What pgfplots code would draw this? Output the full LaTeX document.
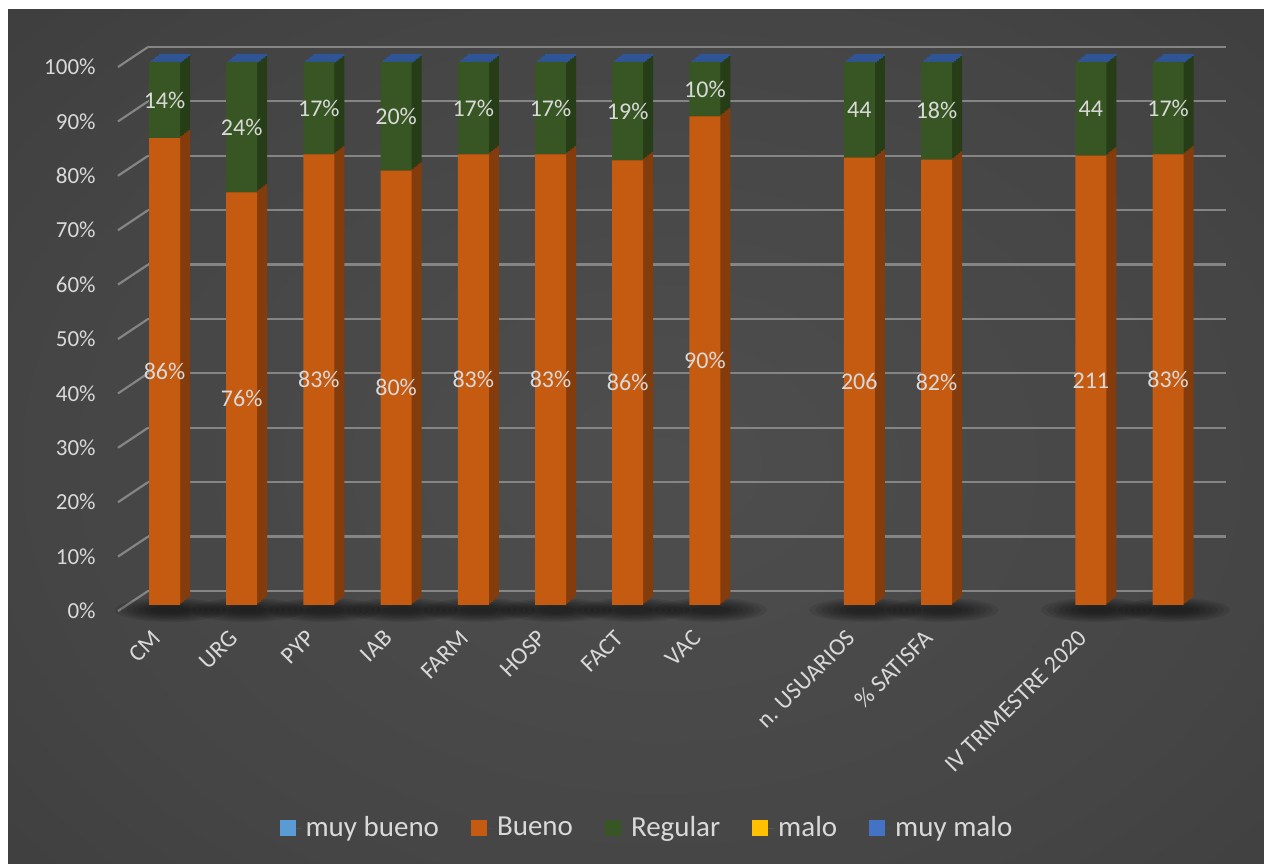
\documentclass[border=0pt]{standalone}
\usepackage{pgfplots}
\pgfplotsset{compat=1.18}
\usepackage{pgfplotstable}
\usepackage{fontspec}
\setmainfont{Carlito}
\definecolor{frontO}{HTML}{C55A11}
\definecolor{sideO}{HTML}{843C0C}
\definecolor{frontG}{HTML}{375623}
\definecolor{sideG}{HTML}{263D17}
\definecolor{topB}{HTML}{2F5597}
\definecolor{txt}{HTML}{D9D9D9}
\definecolor{gridc}{HTML}{858585}
\definecolor{mb}{HTML}{5B9BD5}
\definecolor{malo}{HTML}{FFC000}
\definecolor{mm}{HTML}{4472C4}
\definecolor{bgA}{HTML}{4E4E4E}
\definecolor{bgB}{HTML}{454545}
\definecolor{bgC}{HTML}{363636}
\definecolor{bgD}{HTML}{282828}
\pgfdeclareradialshading{bgsh}{\pgfpoint{0bp}{0bp}}{color(0bp)=(bgA); color(22bp)=(bgB); color(45bp)=(bgC); color(70bp)=(bgD)}
\pgfdeclareplotmark{shad}{%
 \pgfsetfillopacity{0.09}%
 \pgfpathellipse{\pgfpoint{3pt}{-2.5pt}}{\pgfpoint{28pt}{0pt}}{\pgfpoint{0pt}{6pt}}\pgfusepath{fill}%
 \pgfpathellipse{\pgfpoint{3pt}{-2.5pt}}{\pgfpoint{25pt}{0pt}}{\pgfpoint{0pt}{5.3pt}}\pgfusepath{fill}%
 \pgfpathellipse{\pgfpoint{3pt}{-2.5pt}}{\pgfpoint{22pt}{0pt}}{\pgfpoint{0pt}{4.6pt}}\pgfusepath{fill}%
 \pgfpathellipse{\pgfpoint{3pt}{-2.5pt}}{\pgfpoint{19pt}{0pt}}{\pgfpoint{0pt}{3.9pt}}\pgfusepath{fill}%
 \pgfpathellipse{\pgfpoint{3pt}{-2.5pt}}{\pgfpoint{16pt}{0pt}}{\pgfpoint{0pt}{3.2pt}}\pgfusepath{fill}%
 \pgfpathellipse{\pgfpoint{3pt}{-2.5pt}}{\pgfpoint{13pt}{0pt}}{\pgfpoint{0pt}{2.5pt}}\pgfusepath{fill}%
 \pgfpathellipse{\pgfpoint{3pt}{-2.5pt}}{\pgfpoint{10pt}{0pt}}{\pgfpoint{0pt}{1.8pt}}\pgfusepath{fill}%
}
\pgfplotstableread{
x b r lb lr
0 86 14 86\% 14\%
1 76 24 76\% 24\%
2 83 17 83\% 17\%
3 80 20 80\% 20\%
4 83 17 83\% 17\%
5 83 17 83\% 17\%
6 86 19 86\% 19\%
7 90 10 90\% 10\%
9 206 44 206 44
10 82 18 82\% 18\%
12 211 44 211 44
13 83 17 83\% 17\%
}\data
\pgfplotsset{
 base/.style={scale only axis, width=540.4pt, height=271.5pt,
   xmin=-0.5, xmax=13.5, ymin=0, ymax=100, anchor=south west, clip=false,
   axis line style={draw=none}, major tick length=0pt, xtick=\empty, ytick=\empty},
 bars/.style={base, ybar stacked, bar width=15.5pt},
}
\begin{document}
\begin{tikzpicture}
\useasboundingbox (0,0) rectangle (632pt,431.5pt);
\fill[white] (0,0) rectangle (632pt,431.5pt);
\begin{scope}
\clip (4pt,0) rectangle (632pt,426.5pt);
\shade[shading=bgsh] (-20pt,-60pt) rectangle (680pt,460pt);
\end{scope}
% back wall grid
\begin{axis}[scale only axis, width=539pt, height=272pt, xmin=0, xmax=1078, ymin=0, ymax=100,
  anchor=south west, at={(74pt,136pt)}, clip=false,
  axis line style={draw=none}, major tick length=0pt, xtick=\empty,
  ytick={10,20,...,100}, yticklabels={10\%,20\%,30\%,40\%,50\%,60\%,70\%,80\%,90\%,100\%},
  extra y ticks={0}, extra y tick labels={0\%}, extra y tick style={grid=none},
  ymajorgrids, grid style={gridc, line width=1.1pt},
  yticklabel style={anchor=east, inner sep=0pt, xshift=-26pt, yshift=-10pt, text=txt, font=\fontsize{11.5}{13}\selectfont}]
\addplot[gridc, line width=1.1pt] coordinates {(0,0) (1044,0)};
\addplot[gridc, line width=1.1pt, unbounded coords=jump] coordinates {
(-30,-3.68)(0,0) (nan,nan) (-30,6.32)(0,10) (nan,nan) (-30,16.32)(0,20) (nan,nan)
(-30,26.32)(0,30) (nan,nan) (-30,36.32)(0,40) (nan,nan) (-30,46.32)(0,50) (nan,nan)
(-30,56.32)(0,60) (nan,nan) (-30,66.32)(0,70) (nan,nan) (-30,76.32)(0,80) (nan,nan)
(-30,86.32)(0,90) (nan,nan) (-30,96.32)(0,100)};
\end{axis}
% shadows
\begin{axis}[base, at={(62.95pt,129pt)}]
\addplot[only marks, mark=shad, mark options={fill=black, draw=none}] table[x=x, y expr=0] \data;
\end{axis}
% 3D depth layers
\foreach \k in {5,4,3,2,1}{
\begin{axis}[bars, at={({62.95pt+\k*1pt},{129pt+\k*0.8pt})}]
\addplot[fill=sideO, draw=none] table[x=x, y expr={\thisrow{b}/(\thisrow{b}+\thisrow{r})*100}] \data;
\addplot[fill=sideG, draw=none] table[x=x, y expr={\thisrow{r}/(\thisrow{b}+\thisrow{r})*100-0.4}] \data;
\addplot[fill=topB, draw=none] table[x=x, y expr=0.4] \data;
\end{axis}
}
% front faces
\begin{axis}[bars, at={(62.95pt,129pt)}]
\addplot[fill=frontO, draw=none] table[x=x, y expr={\thisrow{b}/(\thisrow{b}+\thisrow{r})*100}] \data;
\addplot[fill=frontG, draw=none] table[x=x, y expr={\thisrow{r}/(\thisrow{b}+\thisrow{r})*100}] \data;
\end{axis}
% labels, category names, legend
\begin{axis}[base, at={(62.95pt,129pt)},
  xtick={0,...,13},
  xticklabels={CM,URG,PYP,IAB,FARM,HOSP,FACT,VAC,,n. USUARIOS,\% SATISFA,,IV TRIMESTRE 2020,},
  xticklabel style={xshift=-4pt, yshift=-14.5pt, rotate=45, anchor=east, inner sep=0pt, text=txt, font=\fontsize{12}{14}\selectfont},
  nodes near coords, point meta=explicit symbolic,
  every node near coord/.append style={anchor=center, text=txt, font=\fontsize{12}{14}\selectfont},
  legend style={at={(0.483,-0.4107)}, anchor=center, draw=none, fill=none, text=txt,
     font=\fontsize{14.5}{17}\selectfont, legend columns=5,
     /tikz/every even column/.append style={column sep=14pt}},
  legend image code/.code={\fill[#1] (0pt,-4pt) rectangle (8pt,4pt); \path (0pt,0pt) -- (11pt,0pt);}]
\addplot[draw=none, mark=none, forget plot] table[x=x, y expr={\thisrow{b}/(\thisrow{b}+\thisrow{r})*50}, meta=lb] \data;
\addplot[draw=none, mark=none, forget plot] table[x=x, y expr={\thisrow{b}/(\thisrow{b}+\thisrow{r})*100+\thisrow{r}/(\thisrow{b}+\thisrow{r})*50}, meta=lr] \data;
\addlegendimage{fill=mb, draw=none}\addlegendentry{muy bueno}
\addlegendimage{fill=frontO, draw=none}\addlegendentry{Bueno}
\addlegendimage{fill=frontG, draw=none}\addlegendentry{Regular}
\addlegendimage{fill=malo, draw=none}\addlegendentry{malo}
\addlegendimage{fill=mm, draw=none}\addlegendentry{muy malo}
\end{axis}
\end{tikzpicture}
\end{document}
